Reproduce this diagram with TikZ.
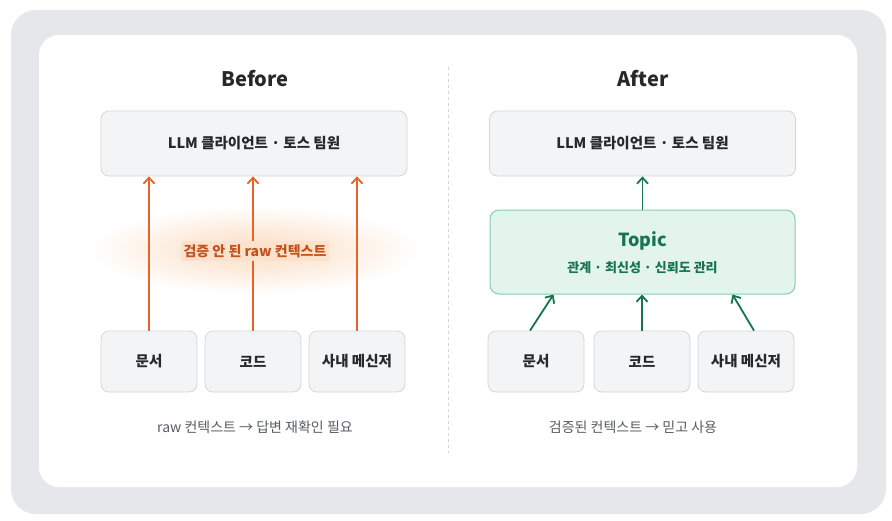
\documentclass[tikz,border=0pt]{standalone}
\usepackage{fontspec}
\setmainfont{Noto Sans CJK KR}
\usetikzlibrary{arrows.meta}
\definecolor{frame}{HTML}{E6E7EB}
\definecolor{boxfill}{HTML}{F3F4F6}
\definecolor{boxline}{HTML}{D3D6DB}
\definecolor{ink}{HTML}{26282C}
\definecolor{capgray}{HTML}{585C63}
\definecolor{rawline}{HTML}{E8622A}
\definecolor{rawtext}{HTML}{C4521F}
\definecolor{glowc}{HTML}{FCE2CC}
\definecolor{topicfill}{HTML}{E2F4EB}
\definecolor{topicline}{HTML}{86CFAA}
\definecolor{topictext}{HTML}{17744E}
\pgfdeclareradialshading{glow}{\pgfpoint{0bp}{0bp}}{color(0bp)=(glowc); color(9bp)=(glowc!80!white); color(25bp)=(white); color(50bp)=(white)}

\begin{document}
\begin{tikzpicture}[x=1pt,y=-1pt,
	srcbox/.style={draw=boxline, line width=0.8pt, fill=boxfill, rounded corners=8pt, minimum width=96pt, minimum height=61pt, text=ink, font=\fontsize{14.5}{16}\selectfont\bfseries},
	topbox/.style={srcbox, minimum width=306pt, minimum height=65pt},
	title/.style={text=ink, font=\fontsize{20}{24}\selectfont\bfseries},
	caption/.style={text=capgray, font=\fontsize{14}{16}\selectfont},
	rawarrow/.style={draw=rawline, line width=1.8pt, -{Straight Barb[length=6pt,width=11pt]}},
	okarrow/.style={draw=topictext, line width=1.8pt, -{Straight Barb[length=6pt,width=11pt]}}]
	\useasboundingbox (0,0) rectangle (892,520);
	\fill[white] (0,0) rectangle (892,520);
	\fill[frame, rounded corners=25pt] (11,10) rectangle (886,514);
	\fill[white, rounded corners=20pt] (39,35) rectangle (857,487);
	\draw[boxline, line width=0.8pt, dash pattern=on 3pt off 3pt] (448,67) -- (448,453);

	% Before
	\node[title] (before) at (255,79) {Before};
	\node[topbox] (llmA) at (254,143.5) {LLM 클라이언트 · 토스 팀원};
	\shade[shading=glow] (255,250) ellipse (165 and 44);
	\node[srcbox] (docA) at (149,361.5) {문서};
	\node[srcbox] (codeA) at (253,361.5) {코드};
	\node[srcbox] (msgA) at (357,361.5) {사내 메신저};
	\draw[rawarrow] (docA.north) -- (docA.north |- llmA.south);
	\draw[rawarrow] (codeA.north) -- (codeA.north |- llmA.south);
	\draw[rawarrow] (msgA.north) -- (msgA.north |- llmA.south);
	\node[fill=glowc, inner sep=3pt, text=rawtext, font=\fontsize{14}{16}\selectfont\bfseries] (raw) at (255,251) {검증 안 된 raw 컨텍스트};
	\node[caption] (capA) at (255,427) {raw 컨텍스트 → 답변 재확인 필요};

	% After
	\node[title] (after) at (643,79) {After};
	\node[topbox] (llmB) at (642.5,143.5) {LLM 클라이언트 · 토스 팀원};
	\node[draw=topicline, line width=1pt, fill=topicfill, rounded corners=9pt, minimum width=305pt, minimum height=84pt] (topic) at (642.5,252) {};
	\node[text=topictext, font=\fontsize{18}{20}\selectfont\bfseries] (topicname) at (642.5,241) {Topic};
	\node[text=topictext, font=\fontsize{13}{14}\selectfont\bfseries] (topicsub) at (642.5,268) {관계 · 최신성 · 신뢰도 관리};
	\node[srcbox] (docB) at (536,361.5) {문서};
	\node[srcbox] (codeB) at (642,361.5) {코드};
	\node[srcbox] (msgB) at (746,361.5) {사내 메신저};
	\draw[okarrow] (topic.north) -- (llmB.south);
	\draw[okarrow] ([xshift=-6pt]docB.north) -- ([xshift=-89pt]topic.south);
	\draw[okarrow] (codeB.north) -- (codeB.north |- topic.south);
	\draw[okarrow] ([xshift=8pt]msgB.north) -- ([xshift=90pt]topic.south);
	\node[caption] (capB) at (633,427) {검증된 컨텍스트 → 믿고 사용};
\end{tikzpicture}
\end{document}
